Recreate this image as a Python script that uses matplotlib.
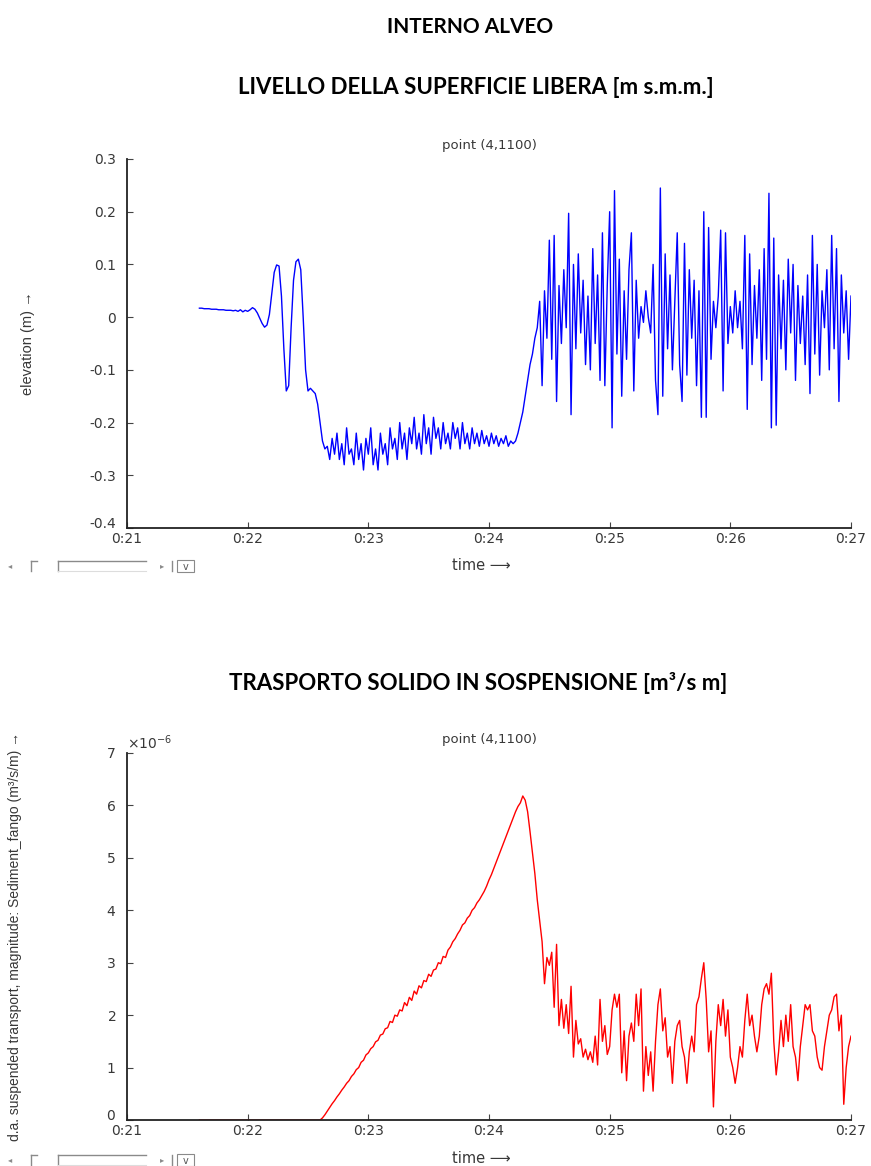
import matplotlib
matplotlib.use('Agg')
import matplotlib.pyplot as plt
import numpy as np
from matplotlib.lines import Line2D
from matplotlib.patches import Rectangle
from matplotlib.ticker import ScalarFormatter
from matplotlib.transforms import ScaledTranslation

W, H = 871, 1166

# time axis in minutes after 0:00, samples every 0.02 min starting at 0:21.6
T_START = 21.6
T_STEP = 0.02

# free surface elevation (m), point (4,1100)
elevation = [
    0.017, 0.017, 0.016, 0.016, 0.016, 0.015, 0.015, 0.015, 0.014, 0.014,
    0.014, 0.013, 0.013, 0.013, 0.012, 0.013, 0.011, 0.014, 0.010, 0.013,
    0.011, 0.014, 0.018, 0.015, 0.008, -0.002, -0.012, -0.019, -0.015, 0.005,
    0.045, 0.085, 0.099, 0.097, 0.040, -0.060, -0.140, -0.130, -0.020, 0.070,
    0.105, 0.110, 0.090, 0.000, -0.100, -0.140, -0.135, -0.140, -0.145, -0.165,
    -0.200, -0.235, -0.250, -0.245, -0.270, -0.230, -0.260, -0.220, -0.270, -0.240,
    -0.280, -0.210, -0.260, -0.250, -0.280, -0.220, -0.270, -0.240, -0.290, -0.230,
    -0.260, -0.210, -0.280, -0.250, -0.290, -0.220, -0.260, -0.240, -0.280, -0.210,
    -0.250, -0.230, -0.270, -0.200, -0.250, -0.220, -0.270, -0.210, -0.240, -0.190,
    -0.250, -0.220, -0.260, -0.185, -0.240, -0.210, -0.260, -0.190, -0.230, -0.210,
    -0.250, -0.200, -0.240, -0.220, -0.250, -0.200, -0.230, -0.210, -0.250, -0.200,
    -0.240, -0.220, -0.250, -0.210, -0.240, -0.220, -0.245, -0.215, -0.240, -0.225,
    -0.245, -0.220, -0.240, -0.225, -0.245, -0.230, -0.240, -0.225, -0.245, -0.235,
    -0.240, -0.235, -0.220, -0.200, -0.180, -0.150, -0.120, -0.090, -0.070, -0.040,
    -0.020,
    0.03, -0.13, 0.05, -0.04, 0.146, -0.08, 0.155, -0.16, 0.06, -0.05,
    0.09, -0.02, 0.197, -0.185, 0.10, -0.06, 0.12, -0.03, 0.07, -0.09,
    0.04, -0.10, 0.13, -0.05, 0.08, -0.12, 0.16, -0.13, 0.06, 0.20,
    -0.21, 0.24, -0.07, 0.11, -0.15, 0.05, -0.08, 0.09, 0.16, -0.14,
    0.07, -0.04, 0.02, -0.01, 0.05, 0.00, -0.03, 0.10, -0.12, -0.185,
    0.245, -0.15, 0.12, -0.06, 0.08, -0.10, 0.03, 0.16, -0.09, -0.16,
    0.14, -0.11, 0.09, -0.04, 0.07, -0.13, 0.05, -0.19, 0.20, -0.19,
    0.17, -0.08, 0.03, -0.02, 0.04, 0.165, -0.14, 0.16, -0.05, 0.02,
    -0.03, 0.05, -0.02, 0.03, -0.06, 0.155, -0.175, 0.12, -0.09, 0.06,
    -0.04, 0.09, -0.12, 0.13, -0.08, 0.235, -0.21, 0.15, -0.205, 0.08,
    -0.06, 0.07, -0.10, 0.11, -0.03, 0.10, -0.12, 0.06, -0.05, 0.04,
    -0.09, 0.08, -0.145, 0.155, -0.07, 0.10, -0.11, 0.05, -0.02, 0.09,
    -0.10, 0.155, -0.06, 0.13, -0.16, 0.08, -0.03, 0.05, -0.08, 0.04,
]

# suspended sediment transport, in units of 1e-6 m3/s/m
sediment = [
    0.00, 0.00, 0.00, 0.00, 0.00, 0.00, 0.00, 0.00, 0.00, 0.00,
    0.00, 0.00, 0.00, 0.00, 0.00, 0.00, 0.00, 0.00, 0.00, 0.00,
    0.00, 0.00, 0.00, 0.00, 0.00, 0.00, 0.00, 0.00, 0.00, 0.00,
    0.00, 0.00, 0.00, 0.00, 0.00, 0.00, 0.00, 0.00, 0.00, 0.00,
    0.00, 0.00, 0.00, 0.00, 0.00, 0.00, 0.00, 0.00, 0.00, 0.00,
    0.00, 0.04, 0.10, 0.17, 0.24, 0.31, 0.37, 0.44, 0.50, 0.57,
    0.63, 0.70, 0.75, 0.83, 0.88, 0.96, 1.00, 1.10, 1.14, 1.24,
    1.28, 1.36, 1.40, 1.49, 1.52, 1.62, 1.64, 1.74, 1.76, 1.88,
    1.86, 2.00, 1.98, 2.10, 2.08, 2.24, 2.18, 2.34, 2.28, 2.46,
    2.40, 2.56, 2.52, 2.66, 2.64, 2.78, 2.74, 2.86, 2.88, 3.00,
    2.98, 3.12, 3.10, 3.24, 3.30, 3.40, 3.46, 3.55, 3.62, 3.72,
    3.76, 3.85, 3.90, 4.00, 4.05, 4.14, 4.20, 4.28, 4.36, 4.46,
    4.58, 4.68, 4.80, 4.92, 5.04, 5.16, 5.28, 5.40, 5.52, 5.64,
    5.76, 5.88, 5.98, 6.05, 6.18, 6.10, 5.88, 5.50, 5.10, 4.70,
    4.20, 3.80, 3.40, 2.60, 3.10, 2.95, 3.20, 2.15, 3.35, 1.80,
    2.30, 1.75, 2.20, 1.65, 2.55, 1.20, 1.90, 1.45, 1.55, 1.20,
    1.35, 1.15, 1.30, 1.10, 1.60, 1.05, 2.30, 1.50, 1.80, 1.25,
    1.40, 2.10, 2.40, 2.15, 2.40, 0.90, 1.70, 0.75, 1.60, 1.85,
    1.50, 2.40, 1.80, 2.50, 0.55, 1.40, 0.85, 1.30, 0.55, 1.50,
    2.20, 2.50, 1.70, 1.95, 1.20, 1.40, 0.70, 1.50, 1.80, 1.90,
    1.40, 1.20, 0.70, 1.30, 1.60, 1.30, 2.20, 2.35, 2.70, 3.00,
    2.30, 1.30, 1.70, 0.25, 1.50, 2.20, 1.80, 2.30, 1.60, 2.10,
    1.20, 1.00, 0.70, 1.00, 1.40, 1.20, 1.90, 2.40, 1.80, 2.00,
    1.60, 1.30, 1.60, 2.20, 2.50, 2.60, 2.40, 2.80, 1.50, 0.86,
    1.30, 1.90, 1.40, 2.00, 1.50, 2.20, 1.40, 1.20, 0.75, 1.40,
    1.80, 2.20, 2.10, 2.20, 1.70, 1.60, 1.20, 1.00, 0.95, 1.40,
    1.70, 2.00, 2.10, 2.35, 2.40, 1.70, 2.00, 0.30, 1.00, 1.40,
    1.60,
]

time_ticks = [21, 22, 23, 24, 25, 26, 27]
time_labels = ['0:21', '0:22', '0:23', '0:24', '0:25', '0:26', '0:27']
elev_ticks = [-0.4, -0.3, -0.2, -0.1, 0.0, 0.1, 0.2, 0.3]
elev_labels = ['-0.4', '-0.3', '-0.2', '-0.1', '0', '0.1', '0.2', '0.3']
sed_ticks = [0, 1, 2, 3, 4, 5, 6, 7]

HEAD_FONT = ['Lato', 'DejaVu Sans']
AX_FONT = ['DejaVu Sans']
LABEL_FONT = ['Liberation Sans', 'DejaVu Sans']
TEXT_COL = '#383838'


def fx(px):
    return px / W


def fy(py):
    return 1 - py / H


def _style(ax):
    for side in ('top', 'right'):
        ax.spines[side].set_visible(False)
    for side in ('left', 'bottom'):
        ax.spines[side].set_color('#222222')
        ax.spines[side].set_linewidth(1.3)
    ax.tick_params(direction='in', length=4, width=0.8, color='#444444',
                   labelsize=10, labelcolor=TEXT_COL)
    ax.tick_params(axis='y', pad=8)
    ax.tick_params(axis='x', pad=3)
    ax.set_xlim(21, 27)
    ax.set_xticks(time_ticks)
    ax.set_xticklabels(time_labels)
    for lab in ax.get_xticklabels() + ax.get_yticklabels():
        lab.set_family(AX_FONT)
    ax.set_facecolor('white')


def _lift_first_ylabel(ax, fig, px):
    # matlab draws the lowest y label slightly above the x labels
    lab = ax.get_yticklabels()[0]
    lab.set_transform(lab.get_transform() + ScaledTranslation(0, px / 100, fig.dpi_scale_trans))


def _scrollbar(fig, py):
    # the little matlab slider left under each plot
    col = '#8a8a8a'
    fig.text(fx(10), fy(py), '\u25c2', fontsize=6, color=col, ha='center', va='center')
    fig.add_artist(Line2D([fx(31), fx(31)], [fy(py + 5), fy(py - 5)], color=col, lw=1))
    fig.add_artist(Line2D([fx(31), fx(37)], [fy(py - 5), fy(py - 5)], color=col, lw=1))
    fig.add_artist(Line2D([fx(58), fx(58)], [fy(py + 5), fy(py - 5)], color=col, lw=1))
    fig.add_artist(Line2D([fx(58), fx(146)], [fy(py - 5), fy(py - 5)], color=col, lw=1))
    fig.add_artist(Line2D([fx(58), fx(146)], [fy(py + 5), fy(py + 5)], color='#dddddd', lw=0.8))
    fig.text(fx(162), fy(py), '\u25b8', fontsize=6, color=col, ha='center', va='center')
    fig.add_artist(Line2D([fx(172), fx(172)], [fy(py + 5), fy(py - 5)], color=col, lw=1))
    fig.add_artist(Rectangle((fx(177), fy(py + 6)), fx(17), 12 / H, fill=False,
                             edgecolor=col, lw=0.8))
    fig.text(fx(185.5), fy(py + 1), 'v', fontsize=7, color='#555555', ha='center', va='center')


fig = plt.figure(figsize=(W / 100, H / 100), dpi=100)
fig.patch.set_facecolor('white')

fig.text(fx(470), fy(27), 'INTERNO ALVEO', fontsize=15, fontweight='bold',
         family=HEAD_FONT, ha='center', va='center')
fig.text(fx(476), fy(88), 'LIVELLO DELLA SUPERFICIE LIBERA [m s.m.m.]', fontsize=16,
         fontweight='bold', family=HEAD_FONT, ha='center', va='center')
fig.text(fx(478), fy(683), 'TRASPORTO SOLIDO IN SOSPENSIONE [m\u00b3/s m]', fontsize=16,
         fontweight='bold', family=HEAD_FONT, ha='center', va='center')

ax_left, ax_right = 127, 851
ax_w = fx(ax_right - ax_left)

# --- water level ---
ax1 = fig.add_axes([fx(ax_left), fy(528), ax_w, (528 - 159) / H])
t1 = T_START + T_STEP * np.arange(len(elevation))
ax1.plot(t1, elevation, color='#0000ff', lw=1.0)
ax1.set_ylim(-0.4, 0.3)
ax1.set_yticks(elev_ticks)
ax1.set_yticklabels(elev_labels)
_style(ax1)
ax1.set_ylabel('elevation (m) \u2192', fontsize=10.5, family=LABEL_FONT, color=TEXT_COL)
ax1.yaxis.set_label_coords(-0.127, 0.5)
ax1.set_xlabel('time \u27f6', fontsize=10.5, family=AX_FONT, color=TEXT_COL)
ax1.xaxis.set_label_coords(0.49, -0.082)
fig.text(fx(489), fy(145), 'point (4,1100)', fontsize=9.5, family=AX_FONT,
         color=TEXT_COL, ha='center', va='center')
_lift_first_ylabel(ax1, fig, 5)
_scrollbar(fig, 566)

# --- suspended transport ---
ax2 = fig.add_axes([fx(ax_left), fy(1120), ax_w, (1120 - 753) / H])
t2 = T_START + T_STEP * np.arange(len(sediment))
ax2.plot(t2, np.array(sediment) * 1e-6, color='#ff0000', lw=1.0)
ax2.set_ylim(0, 7e-6)
ax2.set_yticks(np.array(sed_ticks) * 1e-6)
fmt = ScalarFormatter(useMathText=True)
fmt.set_powerlimits((0, 0))
ax2.yaxis.set_major_formatter(fmt)
_style(ax2)
ax2.yaxis.get_offset_text().set_fontsize(10)
ax2.yaxis.get_offset_text().set_color(TEXT_COL)
ax2.set_ylabel('d.a. suspended transport, magnitude: Sediment_fango (m\u00b3/s/m) \u2192',
               fontsize=10, family=LABEL_FONT, color=TEXT_COL)
ax2.yaxis.set_label_coords(-0.145, 0.5)
ax2.set_xlabel('time \u27f6', fontsize=10.5, family=AX_FONT, color=TEXT_COL)
ax2.xaxis.set_label_coords(0.49, -0.085)
fig.text(fx(489), fy(740), 'point (4,1100)', fontsize=9.5, family=AX_FONT,
         color=TEXT_COL, ha='center', va='center')
_lift_first_ylabel(ax2, fig, 5)
_scrollbar(fig, 1160)

fig.savefig('out.png', dpi=100, facecolor='white')
